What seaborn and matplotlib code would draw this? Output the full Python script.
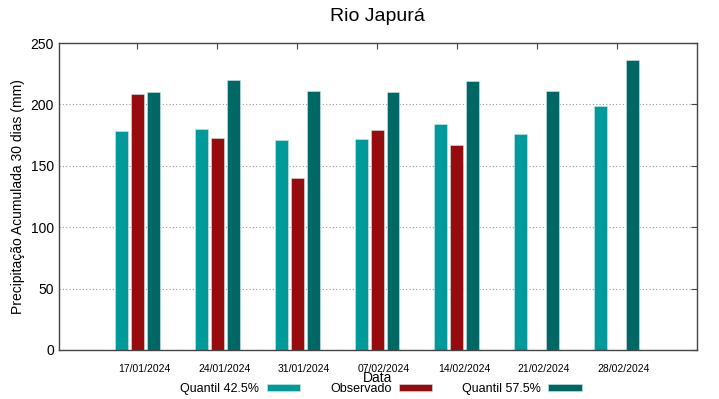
import numpy as np
import pandas as pd
import seaborn as sns
import matplotlib.pyplot as plt
import matplotlib.transforms as mtransforms

datas = ["17/01/2024", "24/01/2024", "31/01/2024", "07/02/2024",
         "14/02/2024", "21/02/2024", "28/02/2024"]
q425 = [178.2, 180.1, 171.1, 171.6, 184.4, 176.0, 198.8]
observado = [208.9, 172.8, 140.4, 179.3, 167.1, np.nan, np.nan]
q575 = [210.5, 219.7, 211.3, 210.5, 218.9, 211.3, 236.6]

series = ["Quantil 42.5%", "Observado", "Quantil 57.5%"]
cores = ["#009a9a", "#960c0e", "#006864"]

df = pd.DataFrame({
    "Data": datas * 3,
    "valor": q425 + observado + q575,
    "serie": [s for s in series for _ in datas],
})

sns.set_style("white")
plt.rcParams["font.family"] = ["Liberation Sans", "DejaVu Sans"]
plt.rcParams["text.color"] = "black"
plt.rcParams["axes.labelcolor"] = "black"
plt.rcParams["xtick.color"] = "black"
plt.rcParams["ytick.color"] = "black"

fig = plt.figure(figsize=(7.19, 3.99), dpi=100)
ax = fig.add_axes([0.082, 0.123, 0.887, 0.769])

sns.barplot(data=df, x="Data", y="valor", hue="serie", hue_order=series,
            palette=cores, saturation=1, width=0.6, gap=0.19, ax=ax,
            edgecolor="#cfe6e6", linewidth=0.4)

ax.set_xlim(-0.98, 7.0)
ax.set_ylim(0, 250)
ax.set_yticks(range(0, 251, 50))
ax.yaxis.grid(True, linestyle=(0, (1, 2)), color="#999999", linewidth=0.8)
ax.set_axisbelow(True)
for s in ax.spines.values():
    s.set_color("#444444")
    s.set_linewidth(1.0)
ax.tick_params(axis="both", direction="in", top=True, right=True,
               length=4, color="#444444")
ax.tick_params(axis="x", labelsize=7.5, pad=10)
ax.tick_params(axis="y", labelsize=10)
offset = mtransforms.ScaledTranslation(7 / 100, 0, fig.dpi_scale_trans)
for lab in ax.get_xticklabels():
    lab.set_transform(lab.get_transform() + offset)

ax.set_title("Rio Japurá", fontsize=14, pad=16)
ax.title.set_position((0.5, 1.0))
ax.set_xlabel("Data", fontsize=10, labelpad=-2)
ax.set_ylabel("Precipitação Acumulada 30 dias (mm)", fontsize=10)

ax.legend(loc="center", bbox_to_anchor=(0.505, -0.127), ncol=3,
          frameon=False, markerfirst=False, fontsize=9,
          handlelength=2.65, handleheight=0.5, columnspacing=2.4,
          handletextpad=0.6)

plt.savefig("out.png", dpi=100)
